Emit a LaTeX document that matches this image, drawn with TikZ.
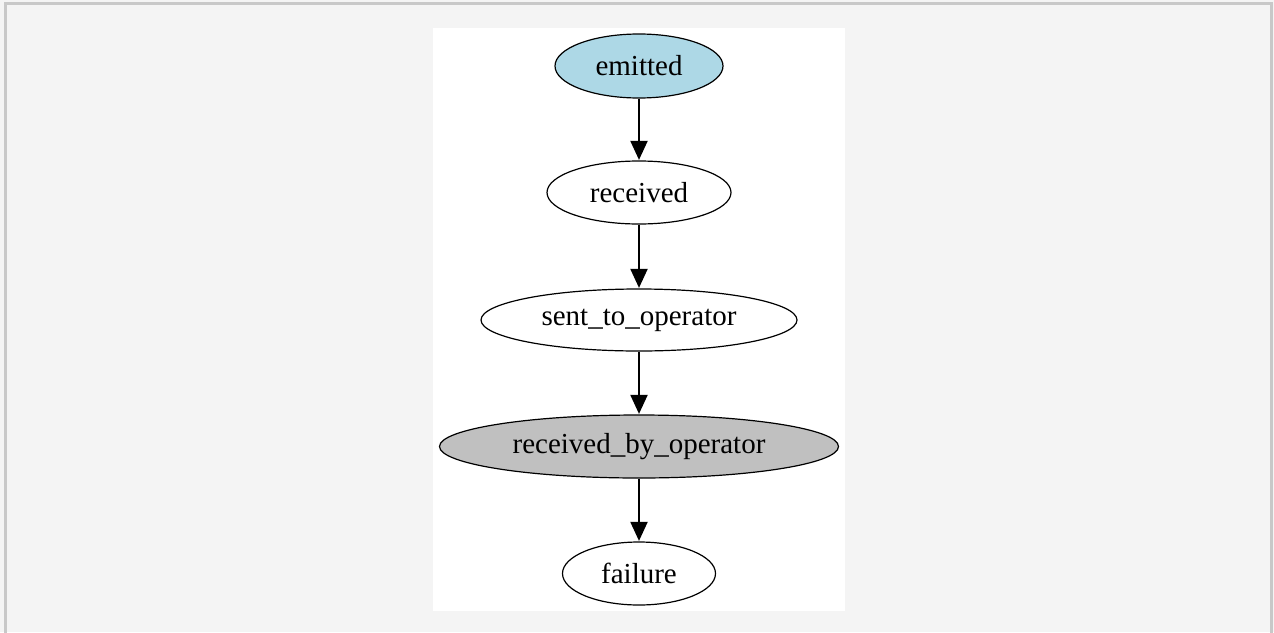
\documentclass[tikz,border=0pt]{standalone}
\usepackage{fontspec}
\setmainfont{Liberation Serif}
\usetikzlibrary{shapes.geometric,arrows.meta}
\definecolor{pagebg}{HTML}{F4F4F4}
\definecolor{framegray}{HTML}{C8C8C8}
\definecolor{nodeblue}{HTML}{ADD8E6}
\definecolor{nodegray}{HTML}{C0C0C0}
\tikzset{
  state/.style={ellipse, draw=black, line width=1.2pt, inner sep=0pt,
    font=\fontsize{29}{34}\selectfont, text=black},
  flow/.style={line width=2pt, -{Triangle[length=19pt,width=17pt]}, shorten >=0.5pt}
}
\begin{document}
\begin{tikzpicture}[x=1pt,y=-1pt]
\useasboundingbox (0,0) rectangle (1274,632);
\fill[pagebg] (0,0) rectangle (1274,632);
\draw[framegray, line width=2.5pt] (5.5,640) -- (5.5,3.5) -- (1271.5,3.5) -- (1271.5,640);
\fill[white] (433,28) rectangle (845,611);
\node[state, fill=nodeblue, minimum width=168pt, minimum height=64pt] (emitted) at (639,66) {emitted};
\node[state, fill=white, minimum width=184pt, minimum height=63pt] (received) at (639,192.5) {received};
\node[state, fill=white, minimum width=316pt, minimum height=62pt] (sent) at (639,320) {sent\_to\_operator};
\node[state, fill=nodegray, minimum width=399pt, minimum height=63pt] (rbo) at (639,446.5) {received\_by\_operator};
\node[state, fill=white, minimum width=153pt, minimum height=63pt] (failure) at (639,573.5) {failure};
\draw[flow] (emitted) -- (received);
\draw[flow] (received) -- (sent);
\draw[flow] (sent) -- (rbo);
\draw[flow] (rbo) -- (failure);
\end{tikzpicture}
\end{document}
